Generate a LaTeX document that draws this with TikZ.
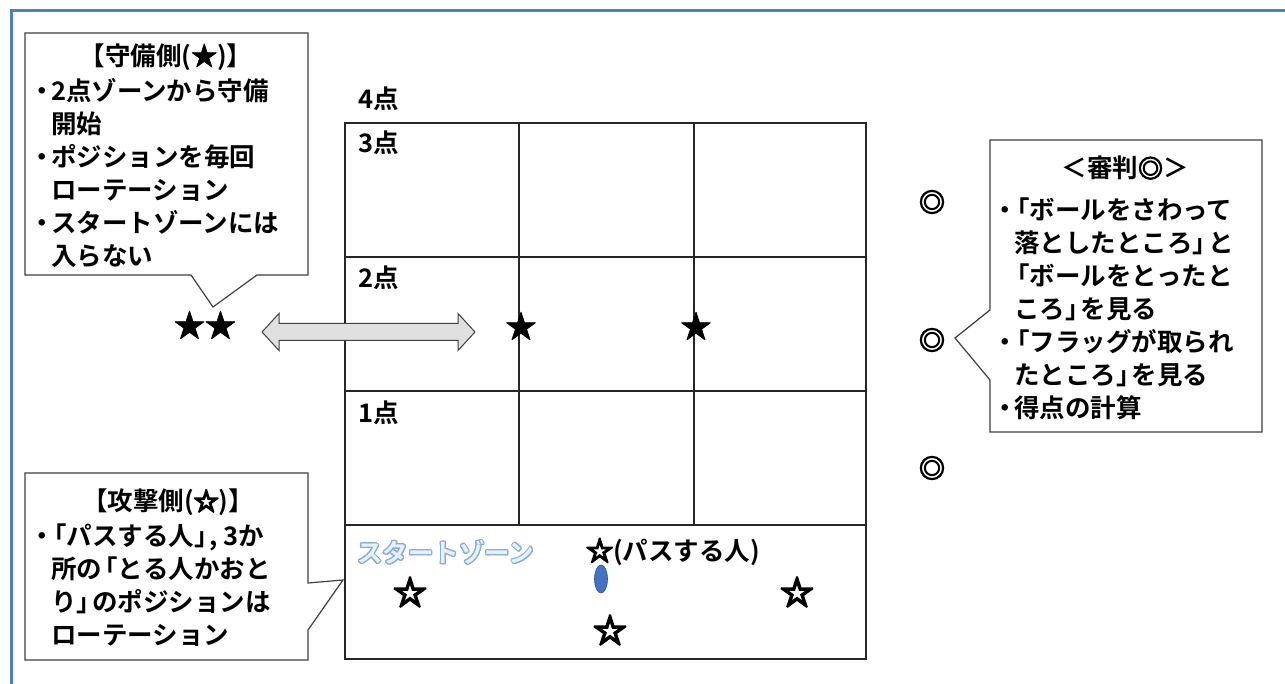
\documentclass[tikz,border=0pt]{standalone}
\usepackage{fontspec}
\setmainfont{Noto Sans CJK JP}[BoldFont={Noto Sans CJK JP Bold}]
\newfontfamily\symb{Noto Sans CJK JP Bold}[FakeBold=2.5]
\newfontfamily\symbr{Noto Sans CJK JP Bold}[FakeBold=4]
\newfontfamily\symbb{Noto Sans CJK JP Bold}[FakeBold=6]
\usepackage{contour}
\contourlength{1pt}
\usetikzlibrary{shapes.geometric}
\definecolor{framebl}{RGB}{79,129,189}
\definecolor{boxln}{RGB}{64,64,64}
\definecolor{gridln}{RGB}{38,38,38}
\definecolor{ballbl}{RGB}{68,114,196}
\definecolor{szout}{RGB}{135,172,215}
\definecolor{szfill}{RGB}{232,240,250}
\newcommand\bul{\makebox[18pt][c]{・}}
\newcommand\ind{\hspace*{18pt}}
\newcommand\lb{\hspace*{-10pt}「}
\newcommand\rb{」\hspace*{-10pt}}
\begin{document}
\begin{tikzpicture}[x=1pt,y=-1pt,
  txt/.style={font=\bfseries\fontsize{25.5}{33}\selectfont, inner sep=0pt, text=black},
  body/.style={txt, align=left, anchor=north west},
  callout/.style={draw=boxln, line width=1.2pt, fill=white, line join=miter},
  gridl/.style={draw=gridln, line width=1.3pt},
  lbl/.style={txt, anchor=west},
  bstar/.style={font=\symb\fontsize{31}{31}\selectfont, inner sep=0pt},
  wstar/.style={font=\symbb\fontsize{33}{33}\selectfont, inner sep=0pt},
  refmark/.style={font=\symbr\fontsize{26}{26}\selectfont, inner sep=0pt}]
\useasboundingbox (0,0) rectangle (1285,684);
\fill[white] (0,0) rectangle (1285,684);
\draw[framebl, line width=3pt] (1290,11) -- (11,11) -- (11,690);

% field grid
\draw[gridl] (345,123) rectangle (866,659);
\draw[gridl] (345,257) -- (866,257);
\draw[gridl] (345,391) -- (866,391);
\draw[gridl] (345,525) -- (866,525);
\draw[gridl] (519,123) -- (519,525);
\draw[gridl] (694,123) -- (694,525);

\node[lbl] (p4) at (358,99) {4点};
\node[lbl] (p3) at (358,143) {3点};
\node[lbl] (p2) at (358,278) {2点};
\node[lbl] (p1) at (358,413) {1点};

% defenders
\node[bstar] (d1) at (521,326) {★};
\node[bstar] (d2) at (696,326) {★};
\node[bstar] (dd) at (205,325) {★★};

% double arrow
\draw[draw=boxln, fill=black!12, line width=1pt, line join=miter]
  (262,332) -- (279,313.5) -- (279,323.5) -- (458,323.5) -- (458,313.5) -- (475,332)
  -- (458,350.5) -- (458,340.5) -- (279,340.5) -- (279,350.5) -- cycle;

% start zone
\node[txt, anchor=west, text=szfill] (sz) at (357,553) {\contour{szout}{スタートゾーン}};
\node[txt, anchor=west] (pass) at (586,552) {{\symbb\fontsize{27}{27}\selectfont ☆}(パスする人)};
\node[draw=ballbl!70!black, fill=ballbl, ellipse, minimum width=13pt, minimum height=28pt, inner sep=0pt, line width=0.6pt] (ball) at (601,579) {};
\node[wstar] (a1) at (410,592) {☆};
\node[wstar] (a2) at (610,630) {☆};
\node[wstar] (a3) at (797,592) {☆};

% referees
\node[refmark] (r1) at (932,202) {◎};
\node[refmark] (r2) at (932,340) {◎};
\node[refmark] (r3) at (932,468) {◎};

% callout: defenders
\draw[callout] (25,33) -- (308,33) -- (308,275) -- (257,275) -- (213,307) -- (191,275) -- (25,275) -- cycle;
\node[txt] (dtitle) at (166,57) {【守備側({\symb\fontsize{26}{26}\selectfont ★})】};
\node[body] (dbody) at (33,78) {\bul 2点ゾーンから守備\\ \ind 開始\\ \bul ポジションを毎回\\ \ind ローテーション\\ \bul スタートゾーンには\\ \ind 入らない};

% callout: attackers
\draw[callout] (25,473) -- (308,473) -- (308,583) -- (343,580) -- (308,630) -- (308,660) -- (25,660) -- cycle;
\node[txt] (atitle) at (168,502) {【攻撃側({\symbb\fontsize{25}{25}\selectfont ☆})】};
\node[body] (abody) at (33,524) {\bul\lb パスする人\rb, 3か\\ \ind 所の\lb とる人かおと\\ \ind り\rb のポジションは\\ \ind ローテーション};

% callout: referee
\draw[callout] (990,140) -- (1262,140) -- (1262,432) -- (990,432) -- (990,380) -- (955,338) -- (990,310) -- cycle;
\node[txt] (rtitle) at (1125,168) {＜審判{\symbr\fontsize{25}{25}\selectfont ◎}＞};
\node[body] (rbody) at (996,198) {\bul\lb ボールをさわって\\ \ind 落としたところ\rb と\\ \ind\lb ボールをとったと\\ \ind ころ\rb を見る\\ \bul\lb フラッグが取られ\\ \ind たところ\rb を見る\\ \bul 得点の計算};
\end{tikzpicture}
\end{document}
